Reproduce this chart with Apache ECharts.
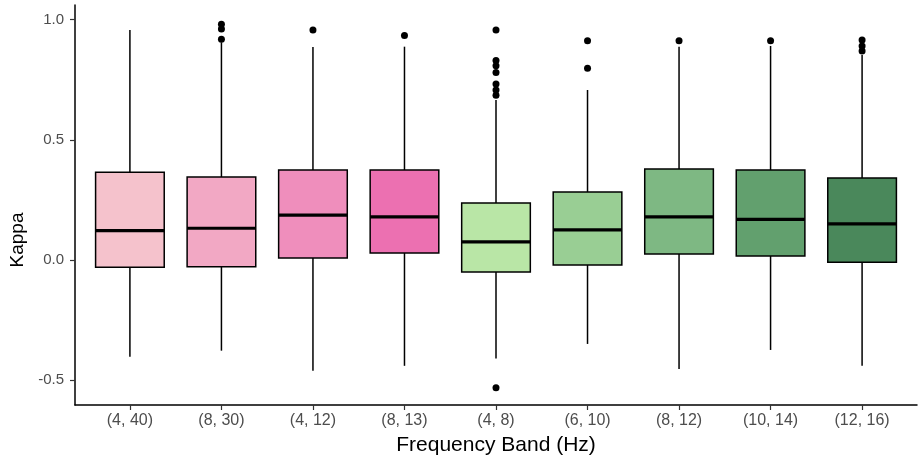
<!DOCTYPE html>
<html><head><meta charset="utf-8">
<script src="https://cdn.jsdelivr.net/npm/echarts@6/dist/echarts.min.js"></script>
<style>html,body{margin:0;padding:0;background:#fff}#c{width:918px;height:462px}</style>
</head><body><div id="c"></div>
<script>
const categories = ['(4, 40)','(8, 30)','(4, 12)','(8, 13)','(4, 8)','(6, 10)','(8, 12)','(10, 14)','(12, 16)'];
const whiskerLow = [-0.402,-0.377,-0.460,-0.440,-0.410,-0.349,-0.453,-0.374,-0.440];
const q1 =        [-0.030,-0.028, 0.008, 0.029,-0.050,-0.021, 0.025, 0.017,-0.009];
const median =    [ 0.122, 0.132, 0.187, 0.179, 0.075, 0.125, 0.179, 0.169, 0.150];
const q3 =        [ 0.365, 0.345, 0.374, 0.374, 0.237, 0.283, 0.378, 0.374, 0.341];
const whiskerHigh=[ 0.956, 0.905, 0.886, 0.887, 0.665, 0.707, 0.887, 0.890, 0.852];
const outliers = [
  [],
  [0.980,0.960,0.918],
  [0.956],
  [0.933],
  [0.956,0.830,0.808,0.780,0.732,0.707,0.685,-0.531],
  [0.912,0.797],
  [0.912],
  [0.912],
  [0.915,0.890,0.869]
];
const fills = ['#F5C2CC','#F2A8C4','#EF8EBC','#EC70B1','#B9E6A6','#99CE94','#7EB883','#62A06E','#4A885B'];
const yTicks = [-0.5,0,0.5,1.0];
const xTicks = [1,2,3,4,5,6,7,8,9];

const boxData = categories.map((c,i)=>[i+1, whiskerLow[i], q1[i], median[i], q3[i], whiskerHigh[i]]);
const outData = [];
outliers.forEach((arr,i)=>arr.forEach(v=>outData.push([i+1,v])));
const boxW = 0.75;

const chart = echarts.init(document.getElementById('c'), null, {renderer:'canvas'});
chart.setOption({
  animation:false,
  backgroundColor:'#fff',
  grid:{left:75,right:1,top:5,bottom:57},
  xAxis:{
    type:'value', min:0.4, max:9.6,
    name:'Frequency Band (Hz)', nameLocation:'middle', nameGap:30,
    nameTextStyle:{fontFamily:'Liberation Sans',fontSize:21,color:'#000'},
    axisLine:{show:true,onZero:false,lineStyle:{color:'#000',width:1.5}},
    axisTick:{show:true,length:5,lineStyle:{color:'#333',width:1.2},customValues:xTicks},
    axisLabel:{customValues:xTicks,formatter:v=>categories[Math.round(v)-1]||'',
      fontFamily:'Liberation Sans',fontSize:16,color:'#4d4d4d',margin:8},
    splitLine:{show:false}
  },
  yAxis:{
    type:'value', min:-0.6029, max:1.0603,
    name:'Kappa', nameLocation:'middle', nameGap:48,
    nameTextStyle:{fontFamily:'Liberation Sans',fontSize:19,color:'#000',padding:[0,70,0,0]},
    axisLine:{show:true,onZero:false,lineStyle:{color:'#000',width:1.5}},
    axisTick:{show:true,length:5,lineStyle:{color:'#333',width:1.2},customValues:yTicks},
    axisLabel:{customValues:yTicks,formatter:v=>v.toFixed(1),
      fontFamily:'Liberation Sans',fontSize:15,color:'#4d4d4d',margin:11},
    splitLine:{show:false}
  },
  series:[
    {
      type:'custom',
      data:boxData,
      clip:false,
      renderItem:function(params, api){
        const x = api.value(0);
        const lo = api.coord([x, api.value(1)]);
        const b1 = api.coord([x - boxW/2, api.value(2)]);
        const md = api.coord([x, api.value(3)]);
        const b3 = api.coord([x + boxW/2, api.value(4)]);
        const hi = api.coord([x, api.value(5)]);
        const lft = b1[0], rgt = b3[0];
        const idx = params.dataIndex;
        return {type:'group',children:[
          {type:'line',shape:{x1:lo[0],y1:lo[1],x2:lo[0],y2:b1[1]},style:{stroke:'#000',lineWidth:1.5}},
          {type:'line',shape:{x1:hi[0],y1:b3[1],x2:hi[0],y2:hi[1]},style:{stroke:'#000',lineWidth:1.5}},
          {type:'rect',shape:{x:lft,y:b3[1],width:rgt-lft,height:b1[1]-b3[1]},style:{fill:fills[idx],stroke:'#000',lineWidth:1.5}},
          {type:'line',shape:{x1:lft,y1:md[1],x2:rgt,y2:md[1]},style:{stroke:'#000',lineWidth:3.2}}
        ]};
      }
    },
    {
      type:'scatter',
      data:outData,
      symbol:'circle',
      symbolSize:7,
      itemStyle:{color:'#000',opacity:1},
      z:5
    }
  ]
});
</script></body></html>
